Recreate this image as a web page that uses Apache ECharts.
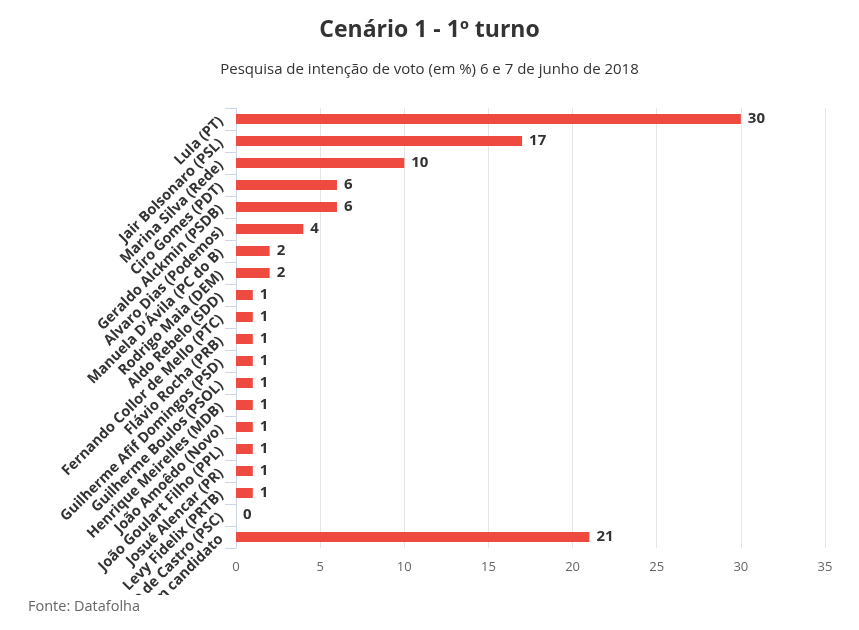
<!DOCTYPE html>
<html>
<head>
<meta charset="utf-8">
<script src="https://cdn.jsdelivr.net/npm/echarts@6/dist/echarts.min.js"></script>
<style>
    html, body { margin: 0; padding: 0; background: #fff; }
    #chart { width: 859px; height: 630px; }
</style>
</head>
<body>
<div id="chart"></div>
<script>
// candidatos, de cima para baixo
var categories = [
    'Lula (PT)', 'Jair Bolsonaro (PSL)', 'Marina Silva (Rede)', 'Ciro Gomes (PDT)',
    'Geraldo Alckmin (PSDB)', 'Alvaro Dias (Podemos)', "Manuela D'Ávila (PC do B)",
    'Rodrigo Maia (DEM)', 'Aldo Rebelo (SDD)', 'Fernando Collor de Mello (PTC)',
    'Flávio Rocha (PRB)', 'Guilherme Afif Domingos (PSD)', 'Guilherme Boulos (PSOL)',
    'Henrique Meirelles (MDB)', 'João Amoêdo (Novo)', 'João Goulart Filho (PPL)',
    'Josué Alencar (PR)', 'Levy Fidelix (PRTB)', 'Paulo Rabello de Castro (PSC)',
    'Branco/nulo/nenhum candidato'
];
var votos = [30, 17, 10, 6, 6, 4, 2, 2, 1, 1, 1, 1, 1, 1, 1, 1, 1, 1, 0, 21];
var xTicks = [0, 5, 10, 15, 20, 25, 30, 35];

drawChart();

/**
 * desenha o grafico de barras
 */
function drawChart() {
    var myChart = echarts.init(document.getElementById('chart'));
    var font = '"Open Sans", sans-serif';

    var option = {
        animation: false,
        title: [
            {
                text: 'Cenário 1 - 1º turno',
                left: 'center',
                top: 14,
                textStyle: { fontFamily: font, fontSize: 23, fontWeight: 'bold', color: '#333' }
            },
            {
                text: 'Pesquisa de intenção de voto (em %) 6 e 7 de junho de 2018',
                left: 'center',
                top: 57,
                textStyle: { fontFamily: font, fontSize: 15, fontWeight: 'normal', color: '#333' }
            }
        ],
        grid: { left: 236, right: 34, top: 108, bottom: 82, containLabel: false, outerBoundsMode: 'none' },
        xAxis: {
            type: 'value',
            min: xTicks[0],
            max: xTicks[xTicks.length - 1],
            interval: 5,
            axisLine: { show: false },
            axisTick: { show: false },
            splitLine: { lineStyle: { color: '#e6e6e6' } },
            axisLabel: { fontFamily: font, fontSize: 13, color: '#666', margin: 13 }
        },
        yAxis: {
            type: 'category',
            inverse: true,
            data: categories,
            axisLine: { lineStyle: { color: '#ccd6eb' } },
            axisTick: { show: true, length: 11, lineStyle: { color: '#ccd6eb' } },
            axisLabel: {
                rotate: 45,
                interval: 0,
                margin: 15,
                fontFamily: font,
                fontSize: 14.5,
                fontWeight: 'bold',
                color: '#333'
            }
        },
        series: [
            {
                type: 'bar',
                data: votos,
                barWidth: 10,
                itemStyle: { color: '#ef4a3f' },
                label: {
                    show: true,
                    position: 'right',
                    distance: 7,
                    fontFamily: font,
                    fontSize: 15,
                    fontWeight: 'bold',
                    color: '#333'
                }
            }
        ],
        graphic: [
            {
                type: 'rect',
                left: 0,
                top: 595,
                z: 100,
                shape: { width: 859, height: 35 },
                style: { fill: '#fff' }
            },
            {
                type: 'text',
                left: 28,
                top: 599,
                z: 101,
                style: { text: 'Fonte: Datafolha', font: '14.5px "Open Sans", sans-serif', fill: '#666' }
            }
        ]
    };

    myChart.setOption(option);
}
</script>
</body>
</html>
